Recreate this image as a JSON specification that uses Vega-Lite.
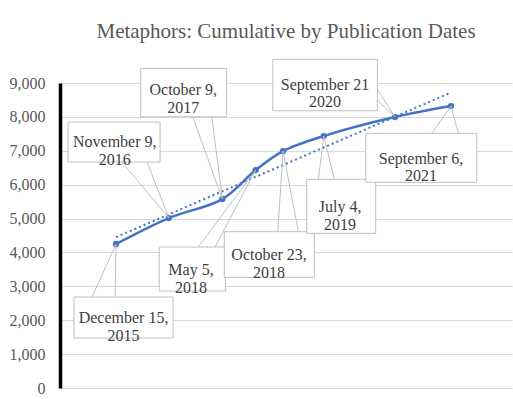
{
  "$schema": "https://vega.github.io/schema/vega-lite/v6.json",
  "width": 452,
  "height": 305,
  "autosize": {"type": "none"},
  "padding": {"left": 60, "top": 83, "right": 1, "bottom": 11},
  "background": "white",
  "title": {
    "text": "Metaphors: Cumulative by Publication Dates",
    "font": "Liberation Serif",
    "fontSize": 21,
    "fontWeight": "normal",
    "color": "#595959",
    "anchor": "middle",
    "frame": "group",
    "baseline": "alphabetic",
    "offset": 0
  },
  "data": {
    "values": [
      {"date": "2015-12-15", "value": 4250, "label": "December 15,\n2015", "bx1": "2015-03-28", "bx2": "2016-12-05", "by1": 2684, "by2": 1475, "wx1": "2015-07-18", "wy1": 2684, "wx2": "2015-12-09", "wy2": 2684, "tx": "2016-01-31", "ty": 2065},
      {"date": "2016-11-09", "value": 5015, "label": "November 9,\n2016", "bx1": "2015-02-18", "bx2": "2016-09-15", "by1": 7847, "by2": 6667, "wx1": "2016-01-21", "wy1": 6667, "wx2": "2016-06-26", "wy2": 6667, "tx": "2015-12-07", "ty": 7257},
      {"date": "2017-10-09", "value": 5575, "label": "October 9,\n2017", "bx1": "2016-05-17", "bx2": "2017-11-05", "by1": 9431, "by2": 8003, "wx1": "2017-04-07", "wy1": 8003, "wx2": "2017-08-04", "wy2": 8003, "tx": "2017-02-07", "ty": 8782},
      {"date": "2018-05-05", "value": 6431, "label": "May 5,\n2018", "bx1": "2016-09-10", "bx2": "2017-10-28", "by1": 4160, "by2": 2862, "wx1": "2017-05-12", "wy1": 4160, "wx2": "2017-08-24", "wy2": 4160, "tx": "2017-03-27", "ty": 3481},
      {"date": "2018-10-23", "value": 6991, "label": "October 23,\n2018", "bx1": "2017-10-21", "bx2": "2019-05-07", "by1": 4611, "by2": 3266, "wx1": "2018-09-20", "wy1": 4611, "wx2": "2019-01-27", "wy2": 4611, "tx": "2018-07-28", "ty": 3924},
      {"date": "2019-07-04", "value": 7434, "label": "July 4,\n2019", "bx1": "2019-03-20", "bx2": "2020-05-24", "by1": 6157, "by2": 4564, "wx1": "2019-06-01", "wy1": 6157, "wx2": "2019-09-09", "wy2": 6157, "tx": "2019-10-14", "ty": 5340},
      {"date": "2020-09-21", "value": 7994, "label": "September 21\n2020", "bx1": "2018-08-20", "bx2": "2020-06-03", "by1": 9697, "by2": 8180, "wx1": "2020-06-03", "wy1": 8812, "wx2": "2020-06-03", "wy2": 8496, "tx": "2019-07-12", "ty": 8947},
      {"date": "2021-09-06", "value": 8319, "label": "September 6,\n2021", "bx1": "2020-03-23", "bx2": "2022-02-14", "by1": 7514, "by2": 6068, "wx1": "2021-05-09", "wy1": 7514, "wx2": "2021-10-22", "wy2": 7514, "tx": "2021-03-03", "ty": 6764}
    ],
    "format": {"parse": {"date": "date", "bx1": "date", "bx2": "date", "wx1": "date", "wx2": "date", "tx": "date"}}
  },
  "layer": [
    {
      "transform": [{"regression": "value", "on": "date", "method": "linear"}],
      "mark": {"type": "line", "color": "#4472C4", "strokeWidth": 2, "strokeDash": [2, 3]},
      "encoding": {
        "x": {"field": "date", "type": "temporal", "axis": null, "scale": {"domain": [{"year": 2014, "month": 12, "date": 30, "utc": true}, {"year": 2022, "month": 9, "date": 22, "utc": true}]}},
        "y": {"field": "value", "type": "quantitative", "title": null, "scale": {"domain": [0, 9000], "nice": false},
          "axis": {"values": [0, 1000, 2000, 3000, 4000, 5000, 6000, 7000, 8000, 9000], "format": ",d"}}
      }
    },
    {
      "mark": {"type": "line", "color": "#4472C4", "strokeWidth": 2.5, "interpolate": "catmull-rom"},
      "encoding": {
        "x": {"field": "date", "type": "temporal", "axis": null},
        "y": {"field": "value", "type": "quantitative", "title": null, "axis": {"values": [0, 1000, 2000, 3000, 4000, 5000, 6000, 7000, 8000, 9000], "format": ",d"}}
      }
    },
    {
      "mark": {"type": "point", "shape": "circle", "filled": true, "color": "#4472C4", "size": 40, "opacity": 1},
      "encoding": {
        "x": {"field": "date", "type": "temporal", "axis": null},
        "y": {"field": "value", "type": "quantitative", "title": null, "axis": {"values": [0, 1000, 2000, 3000, 4000, 5000, 6000, 7000, 8000, 9000], "format": ",d"}}
      }
    },
    {
      "mark": {"type": "rule", "color": "#bfbfbf", "strokeWidth": 1},
      "encoding": {
        "x": {"field": "date", "type": "temporal", "axis": null},
        "y": {"field": "value", "type": "quantitative", "title": null, "axis": {"values": [0, 1000, 2000, 3000, 4000, 5000, 6000, 7000, 8000, 9000], "format": ",d"}},
        "x2": {"field": "wx1"},
        "y2": {"field": "wy1"}
      }
    },
    {
      "mark": {"type": "rule", "color": "#bfbfbf", "strokeWidth": 1},
      "encoding": {
        "x": {"field": "date", "type": "temporal", "axis": null},
        "y": {"field": "value", "type": "quantitative", "title": null, "axis": {"values": [0, 1000, 2000, 3000, 4000, 5000, 6000, 7000, 8000, 9000], "format": ",d"}},
        "x2": {"field": "wx2"},
        "y2": {"field": "wy2"}
      }
    },
    {
      "mark": {"type": "rect", "fill": "white", "stroke": "#bfbfbf", "strokeWidth": 1},
      "encoding": {
        "x": {"field": "bx1", "type": "temporal", "axis": null},
        "x2": {"field": "bx2"},
        "y": {"field": "by1", "type": "quantitative", "title": null, "axis": {"values": [0, 1000, 2000, 3000, 4000, 5000, 6000, 7000, 8000, 9000], "format": ",d"}},
        "y2": {"field": "by2"}
      }
    },
    {
      "mark": {"type": "text", "font": "Liberation Serif", "fontSize": 16, "color": "#404040", "align": "center", "baseline": "middle", "lineBreak": "\n", "lineHeight": 17.5},
      "encoding": {
        "x": {"field": "tx", "type": "temporal", "axis": null},
        "y": {"field": "ty", "type": "quantitative", "title": null, "axis": {"values": [0, 1000, 2000, 3000, 4000, 5000, 6000, 7000, 8000, 9000], "format": ",d"}},
        "text": {"field": "label"}
      }
    }
  ],
  "config": {
    "font": "Liberation Serif",
    "view": {"stroke": null},
    "title": {"font": "Liberation Serif"},
    "axisY": {
      "ticks": false,
      "labelPadding": 15,
      "labelFont": "Liberation Serif",
      "labelFontSize": 16,
      "labelColor": "#595959",
      "labelOverlap": false,
      "domainColor": "#000000",
      "domainWidth": 3.5,
      "grid": true,
      "gridColor": "#d9d9d9",
      "gridWidth": 1
    }
  }
}
